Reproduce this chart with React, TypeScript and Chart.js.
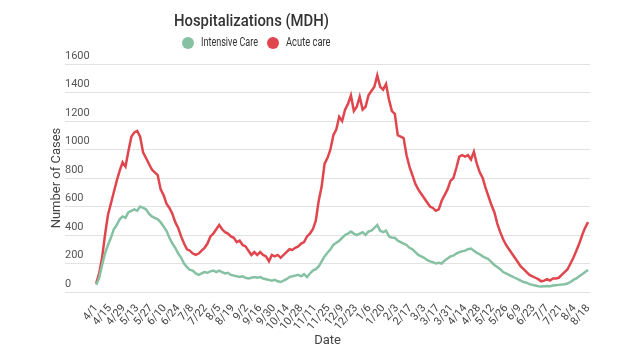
import React, { useEffect, useRef } from "react";
import { Chart, registerables } from "chart.js";

Chart.register(...registerables);

// Tick labels every 14 days starting 4/1 (2020) through 8/18 (2021)
const tickLabels = [
  "4/1", "4/15", "4/29", "5/13", "5/27", "6/10", "6/24", "7/8", "7/22", "8/5",
  "8/19", "9/2", "9/16", "9/30", "10/14", "10/28", "11/11", "11/25", "12/9", "12/23",
  "1/6", "1/20", "2/3", "2/17", "3/3", "3/17", "3/31", "4/14", "4/28", "5/12",
  "5/26", "6/9", "6/23", "7/7", "7/21", "8/4", "8/18",
];
const TICK_STEP_DAYS = 14;
const SAMPLE_STEP_DAYS = 3;

// Values sampled every 3 days from 4/1
const intensiveCare = [
  50, 100, 190, 270, 330, 380, 440, 470, 510, 530,
  520, 560, 570, 580, 570, 600, 590, 580, 550, 530,
  520, 510, 490, 460, 430, 380, 340, 310, 270, 240,
  200, 175, 155, 150, 130, 120, 130, 140, 135, 145,
  150, 140, 150, 140, 130, 135, 120, 115, 110, 105,
  110, 100, 95, 100, 105, 100, 105, 95, 90, 85,
  80, 85, 75, 70, 80, 90, 105, 110, 115, 120,
  110, 125, 105, 130, 150, 160, 180, 215, 250, 275,
  300, 330, 345, 360, 380, 400, 410, 425, 410, 400,
  410, 420, 400, 425, 430, 450, 470, 430, 420, 430,
  390, 380, 380, 360, 350, 340, 330, 310, 300, 280,
  260, 250, 240, 225, 215, 210, 200, 205, 200, 220,
  235, 250, 255, 270, 280, 285, 290, 300, 305, 290,
  275, 265, 250, 240, 230, 210, 190, 175, 160, 140,
  130, 120, 110, 100, 90, 80, 70, 65, 55, 50,
  45, 40, 38, 40, 42, 40, 45, 48, 50, 52,
  55, 60, 70, 85, 95, 110, 125, 140, 155,
];

const acuteCare = [
  60, 130, 240, 400, 540, 620, 700, 780, 850, 910,
  880, 990, 1090, 1120, 1130, 1090, 980, 940, 900, 860,
  840, 820, 720, 680, 620, 590, 550, 490, 450, 390,
  340, 300, 290, 270, 260, 270, 290, 310, 340, 390,
  410, 440, 470, 440, 420, 410, 390, 380, 350, 360,
  330, 320, 290, 260, 280, 260, 280, 260, 250, 215,
  260, 250, 260, 240, 260, 280, 300, 295, 310, 320,
  340, 350, 390, 410, 440, 500, 640, 740, 900, 940,
  1000, 1100, 1140, 1230, 1200, 1280, 1320, 1380, 1270, 1300,
  1370, 1280, 1300, 1380, 1410, 1440, 1520, 1440, 1420, 1460,
  1350, 1270, 1250, 1100, 1090, 1080, 960, 880, 820, 760,
  720, 690, 660, 630, 600, 590, 570, 580, 640, 680,
  720, 780, 800, 870, 950, 960, 950, 960, 930, 985,
  900, 840, 800, 730, 670, 610, 560, 480, 420, 370,
  330, 300, 270, 240, 210, 180, 160, 140, 120, 110,
  100, 90, 75, 80, 90, 80, 95, 95, 100, 120,
  140, 160, 200, 240, 290, 340, 400, 450, 490,
];

const seriesNames = ["Intensive Care", "Acute care"];
const seriesColors = ["#85c1a2", "#e0464d"];
const chartTitle = "Hospitalizations (MDH)";

const headerPlugin = {
  id: "customHeader",
  afterDraw(chart: any) {
    const ctx = chart.ctx as CanvasRenderingContext2D;
    const drawText = (
      text: string,
      x: number,
      y: number,
      font: string,
      color: string,
      targetWidth: number,
      align: CanvasTextAlign
    ) => {
      ctx.save();
      ctx.font = font;
      const w = ctx.measureText(text).width;
      const sx = w > 0 ? targetWidth / w : 1;
      ctx.translate(x, y);
      ctx.scale(sx, 1);
      ctx.fillStyle = color;
      ctx.textAlign = align;
      ctx.textBaseline = "middle";
      ctx.fillText(text, 0, 0);
      ctx.restore();
    };
    drawText(chartTitle, 243.5, 14, "500 17px Roboto", "#333333", 155, "center");
    const items = [
      { cx: 180, tx: 193, w: 57 },
      { cx: 265, tx: 278, w: 44.5 },
    ];
    items.forEach((it, i) => {
      ctx.save();
      ctx.beginPath();
      ctx.arc(it.cx, 35, 6, 0, Math.PI * 2);
      ctx.fillStyle = seriesColors[i];
      ctx.fill();
      ctx.restore();
      drawText(seriesNames[i], it.tx, 35, "12px Roboto", "#333333", it.w, "left");
    });
  },
};

export default function App() {
  const ref = useRef<HTMLCanvasElement>(null);
  useEffect(() => {
    if (!ref.current) return;
    const toPoints = (arr: number[]) =>
      arr.map((v, i) => ({ x: i * SAMPLE_STEP_DAYS, y: v }));
    const chart = new Chart(ref.current, {
      type: "line",
      data: {
        datasets: [
          {
            label: seriesNames[0],
            data: toPoints(intensiveCare),
            borderColor: seriesColors[0],
            backgroundColor: seriesColors[0],
            borderWidth: 2.5,
            pointRadius: 0,
            tension: 0,
          },
          {
            label: seriesNames[1],
            data: toPoints(acuteCare),
            borderColor: seriesColors[1],
            backgroundColor: seriesColors[1],
            borderWidth: 2.5,
            pointRadius: 0,
            tension: 0,
          },
        ],
      },
      options: {
        responsive: false,
        animation: false,
        layout: { padding: { left: 37, right: 42, top: 56, bottom: 3 } },
        plugins: {
          legend: { display: false },
          title: { display: false },
          tooltip: { enabled: false },
        },
        scales: {
          x: {
            type: "linear",
            min: -32,
            max: 506,
            afterBuildTicks: (s: any) => {
              s.ticks = tickLabels.map((_, i) => ({ value: i * TICK_STEP_DAYS }));
            },
            afterFit: (s: any) => {
              s.height = 57;
            },
            ticks: {
              autoSkip: false,
              minRotation: 50,
              maxRotation: 50,
              padding: 2,
              color: "#444444",
              font: { family: "Roboto", size: 11 },
              callback: (_v: any, i: number) => tickLabels[i] ?? "",
            },
            grid: { display: false },
            border: { display: false },
            title: {
              display: true,
              text: "Date",
              color: "#444444",
              font: { family: "Roboto", size: 13 },
              padding: 0,
            },
          },
          y: {
            min: 0,
            max: 1600,
            afterFit: (s: any) => {
              s.width = 20;
            },
            ticks: {
              stepSize: 200,
              mirror: true,
              padding: 0,
              labelOffset: -8,
              color: "#555555",
              font: { family: "Roboto", size: 11 },
              callback: (v: any) => String(v),
            },
            grid: { color: "#e2e2e2", drawTicks: false },
            border: { display: false },
            title: {
              display: true,
              text: "Number of Cases",
              color: "#444444",
              font: { family: "Roboto", size: 13 },
              padding: { top: 4, bottom: 4 },
            },
          },
        },
      },
      plugins: [headerPlugin],
    });
    return () => chart.destroy();
  }, []);
  return (
    <div style={{ width: 624, height: 344 }}>
      <canvas ref={ref} width={624} height={344} style={{ display: "block" }} />
    </div>
  );
}
